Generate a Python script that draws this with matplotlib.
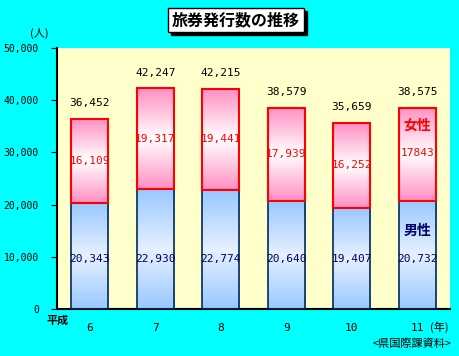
import numpy as np
import matplotlib
matplotlib.use("Agg")
import matplotlib.pyplot as plt
from matplotlib.colors import LinearSegmentedColormap
from matplotlib.patches import Rectangle

plt.rcParams['font.family'] = ['Noto Sans CJK JP', 'DejaVu Sans']
MONO = ['DejaVu Sans Mono', 'Noto Sans CJK JP']

years = ['6', '7', '8', '9', '10', '11']
male = [20343, 22930, 22774, 20640, 19407, 20732]
female = [16109, 19317, 19441, 17939, 16252, 17843]
totals = [36452, 42247, 42215, 38579, 35659, 38575]
female_labels = ['16,109', '19,317', '19,441', '17,939', '16,252', '17843']
male_labels = ['20,343', '22,930', '22,774', '20,640', '19,407', '20,732']
yticks = [0, 10000, 20000, 30000, 40000, 50000]

W, H = 459, 356
fig = plt.figure(figsize=(W / 100, H / 100), dpi=100, facecolor='#00FFFF')
ax = fig.add_axes([57 / W, (H - 309) / H, 393 / W, 261 / H])
ax.set_facecolor('#FFFFCC')

x = np.arange(len(years))
bw = 0.57
mb = ax.bar(x, male, bw, color='none', edgecolor='#002a5c', linewidth=1.2, zorder=3)
fb = ax.bar(x, female, bw, bottom=male, color='none', edgecolor='#FF0000', linewidth=1.5, zorder=3)

# gradient fills: coloured at top and bottom, pale in the middle
pink = LinearSegmentedColormap.from_list('p', ['#FFFFFF', '#FF8FC4'])
blue = LinearSegmentedColormap.from_list('b', ['#E6F0FF', '#99C8FF'])
prof = np.abs(np.linspace(-1, 1, 200))
grad = prof.reshape(-1, 1)

for bars, cmap in ((mb, blue), (fb, pink)):
    for p in bars:
        x0, y0 = p.get_x(), p.get_y()
        im = ax.imshow(grad, cmap=cmap, aspect='auto', vmin=0, vmax=1,
                       extent=[x0, x0 + p.get_width(), y0, y0 + p.get_height()],
                       zorder=2, interpolation='bilinear')
        im.set_clip_path(p)

ax.set_xlim(-0.5, len(years) - 0.5)
ax.set_ylim(0, 50000)
ax.set_yticks(yticks)
ax.set_yticklabels([f'{v:,}' for v in yticks], fontsize=7, family=MONO)
ax.set_xticks(x)
ax.set_xticklabels(years, fontsize=8, family=MONO)
ax.tick_params(axis='y', length=4, pad=9, direction='out')
ax.tick_params(axis='x', length=0, pad=10)
for s in ('top', 'right'):
    ax.spines[s].set_visible(False)
ax.spines['left'].set_linewidth(1.5)
ax.spines['bottom'].set_linewidth(1.5)

for i in range(len(years)):
    ax.text(x[i], totals[i] + 3000, f'{totals[i]:,}', ha='center', va='center',
            fontsize=8, family=MONO, color='black', zorder=5)
    fy = male[i] + female[i] / 2
    if i == 5:
        fy = 29900
    ax.text(x[i], fy, female_labels[i], ha='center', va='center', fontsize=8,
            family=MONO, color='#FF0000', zorder=5)
    ax.text(x[i], 9600, male_labels[i], ha='center', va='center', fontsize=8,
            family=MONO, color='#000066', zorder=5)

ax.text(x[5], 35100, '女性', ha='center', va='center', fontsize=10, fontweight='bold', color='#FF0000', zorder=5)
ax.text(x[5], 14900, '男性', ha='center', va='center', fontsize=10, fontweight='bold', color='#000066', zorder=5)

fig.text(39 / W, 1 - 33 / H, '(人)', ha='center', va='center', fontsize=8)
fig.text(58 / W, 1 - 320 / H, '平成', ha='center', va='center', fontsize=8, fontweight='bold')
fig.text(439 / W, 1 - 327 / H, '(年)', ha='center', va='center', fontsize=8)
fig.text(452 / W, 1 - 344 / H, '<県国際課資料>', ha='right', va='center', fontsize=8)

# title box with drop shadow
bx0, bx1, by0, by1 = 168, 304, 8, 32
fig.patches.append(Rectangle(((bx0 + 3) / W, 1 - (by1 + 3) / H), (bx1 - bx0) / W, (by1 - by0) / H,
                             transform=fig.transFigure, facecolor='black', edgecolor='black'))
fig.patches.append(Rectangle((bx0 / W, 1 - by1 / H), (bx1 - bx0) / W, (by1 - by0) / H,
                             transform=fig.transFigure, facecolor='white', edgecolor='black', linewidth=1))
fig.text((bx0 + bx1) / 2 / W, 1 - (by0 + by1) / 2 / H, '旅券発行数の推移', ha='center', va='center',
         fontsize=11.5, fontweight='bold', color='black')

fig.savefig('out.png', dpi=100, facecolor=fig.get_facecolor())
